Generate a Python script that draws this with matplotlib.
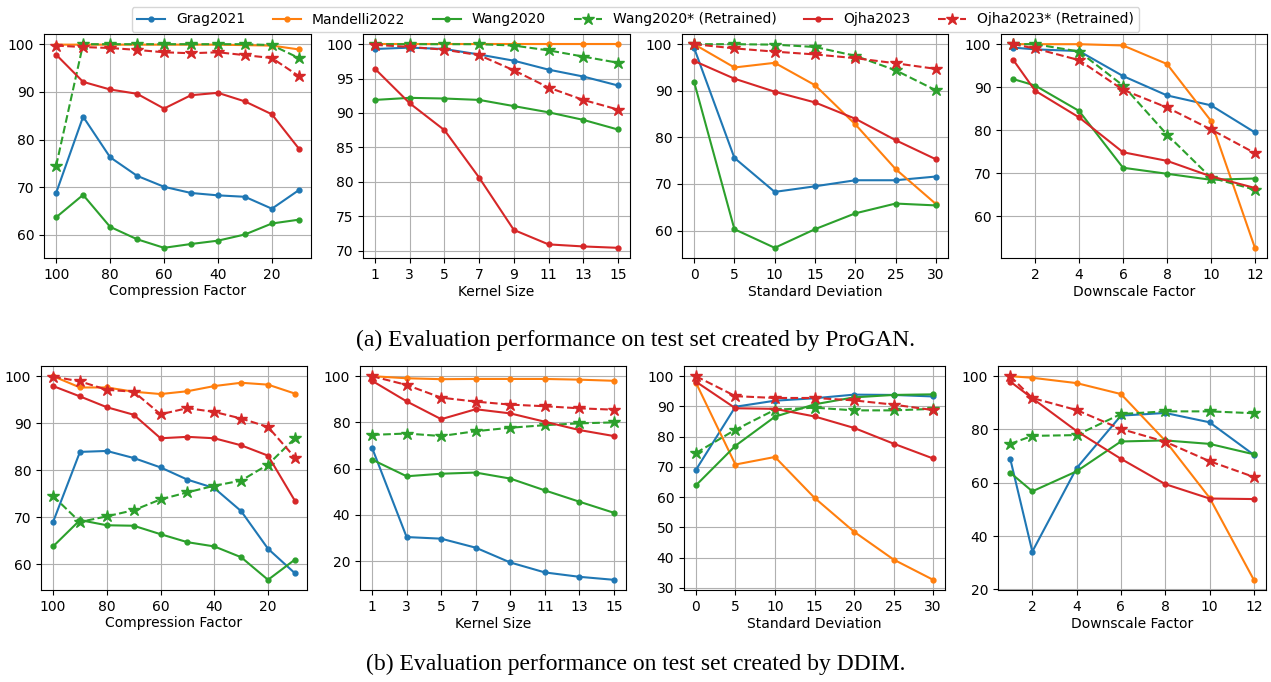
import numpy as np
import matplotlib
matplotlib.use('Agg')
import matplotlib.pyplot as plt

###Data
comp_x = [100, 90, 80, 70, 60, 50, 40, 30, 20, 10]
kern_x = [1, 3, 5, 7, 9, 11, 13, 15]
std_x = [0, 5, 10, 15, 20, 25, 30]
down_x = [1, 2, 4, 6, 8, 10, 12]

methods = ['Grag2021', 'Mandelli2022', 'Wang2020', 'Wang2020* (Retrained)',
           'Ojha2023', 'Ojha2023* (Retrained)']

# (a) ProGAN
progan_comp = [
    [68.8, 84.8, 76.3, 72.4, 70.1, 68.8, 68.3, 68.0, 65.5, 69.4],
    [99.9, 99.9, 99.9, 99.9, 99.9, 99.9, 99.9, 99.8, 99.7, 98.9],
    [63.7, 68.4, 61.7, 59.1, 57.3, 58.1, 58.8, 60.1, 62.4, 63.2],
    [74.5, 100.0, 100.0, 100.0, 100.0, 100.0, 100.0, 100.0, 99.8, 97.1],
    [97.8, 92.1, 90.5, 89.6, 86.5, 89.3, 89.8, 88.0, 85.3, 78.1],
    [99.7, 99.4, 99.2, 98.8, 98.3, 98.1, 98.3, 97.7, 97.1, 93.3],
]
progan_kern = [
    [99.3, 99.5, 99.3, 98.5, 97.6, 96.3, 95.3, 94.0],
    [100.0, 100.0, 100.0, 100.0, 100.0, 100.0, 100.0, 100.0],
    [91.9, 92.2, 92.1, 91.9, 91.0, 90.1, 89.0, 87.6],
    [100.0, 100.0, 100.0, 100.0, 99.8, 99.1, 98.2, 97.3],
    [96.4, 91.4, 87.5, 80.6, 73.0, 70.9, 70.6, 70.4],
    [99.9, 99.6, 99.2, 98.4, 96.2, 93.7, 91.9, 90.5],
]
progan_std = [
    [99.2, 75.6, 68.3, 69.5, 70.8, 70.8, 71.6],
    [100.0, 95.0, 96.0, 91.2, 82.8, 73.2, 65.7],
    [91.9, 60.3, 56.3, 60.3, 63.7, 65.8, 65.4],
    [100.0, 100.0, 99.9, 99.4, 97.5, 94.4, 90.1],
    [96.4, 92.6, 89.8, 87.5, 84.0, 79.4, 75.3],
    [100.0, 99.1, 98.4, 97.8, 97.0, 95.9, 94.7],
]
progan_down = [
    [99.2, 98.8, 98.4, 92.6, 88.1, 85.8, 79.5],
    [100.0, 100.0, 100.0, 99.7, 95.4, 82.2, 52.7],
    [91.9, 90.4, 84.5, 71.3, 69.9, 68.5, 68.8],
    [100.0, 100.0, 98.3, 90.4, 79.0, 69.0, 66.2],
    [96.4, 89.2, 83.0, 74.9, 72.9, 69.3, 66.6],
    [100.0, 99.0, 96.3, 89.4, 85.3, 80.2, 74.7],
]

# (b) DDIM
ddim_comp = [
    [69.0, 83.9, 84.1, 82.6, 80.6, 78.0, 76.2, 71.3, 63.3, 58.1],
    [100.0, 97.6, 97.6, 96.7, 96.2, 96.8, 97.9, 98.6, 98.2, 96.3],
    [63.8, 69.4, 68.3, 68.2, 66.4, 64.7, 63.8, 61.5, 56.7, 61.0],
    [74.5, 69.0, 70.2, 71.5, 73.8, 75.3, 76.7, 77.8, 81.2, 86.8],
    [97.9, 95.7, 93.4, 91.8, 86.8, 87.1, 86.8, 85.3, 83.1, 73.5],
    [99.9, 98.9, 97.1, 96.7, 91.9, 93.2, 92.4, 91.0, 89.2, 82.7],
]
ddim_kern = [
    [69.0, 30.4, 29.7, 25.8, 19.4, 15.1, 13.2, 11.9],
    [100.0, 99.1, 98.7, 98.8, 98.8, 98.8, 98.5, 98.0],
    [63.9, 56.7, 57.8, 58.3, 55.7, 50.6, 45.7, 40.9],
    [74.6, 75.2, 74.1, 76.2, 77.7, 78.8, 79.6, 80.0],
    [98.0, 89.1, 81.4, 85.7, 83.9, 80.3, 76.7, 74.1],
    [100.0, 96.2, 90.7, 89.0, 87.7, 87.0, 86.1, 85.5],
]
ddim_std = [
    [69.0, 89.9, 91.9, 92.7, 93.9, 93.8, 93.3],
    [97.9, 70.8, 73.3, 59.8, 48.6, 39.4, 32.7],
    [63.9, 77.0, 86.6, 90.7, 93.0, 93.8, 94.0],
    [74.6, 82.3, 88.9, 89.6, 88.7, 88.7, 89.2],
    [98.2, 89.4, 89.2, 86.7, 82.9, 77.7, 72.8],
    [100.0, 93.4, 92.8, 92.8, 92.0, 90.6, 88.8],
]
ddim_down = [
    [69.1, 34.2, 65.5, 85.2, 86.2, 82.7, 70.5],
    [100.0, 99.4, 97.4, 93.3, 75.8, 54.4, 23.6],
    [63.8, 56.8, 64.3, 75.5, 75.9, 74.6, 70.7],
    [74.6, 77.6, 77.9, 85.8, 86.8, 86.8, 86.1],
    [98.0, 91.7, 79.4, 69.0, 59.5, 54.1, 53.9],
    [100.0, 91.8, 87.3, 80.2, 75.4, 68.1, 62.2],
]

colors = ['tab:blue', 'tab:orange', 'tab:green', 'tab:green', 'tab:red', 'tab:red']
styles = ['-', '-', '-', '--', '-', '--']
marks = ['.', '.', '.', '*', '.', '*']
msizes = [7, 7, 7, 9, 7, 9]

W, H = 1271, 682
fig = plt.figure(figsize=(W/100, H/100), dpi=100)

def px_axes(l, t, r, b):
    return fig.add_axes([l/W, 1-b/H, (r-l)/W, (b-t)/H])

top_boxes = [(44, 34, 311, 258), (363, 34, 630, 258), (682, 34, 948, 258), (1001, 34, 1267, 258)]
bot_boxes = [(41, 366, 307, 590), (360, 366, 626, 590), (684, 366, 945, 590), (998, 366, 1266, 590)]

panels = [
    (comp_x, 'Compression Factor', [100, 80, 60, 40, 20]),
    (kern_x, 'Kernel Size', kern_x),
    (std_x, 'Standard Deviation', std_x),
    (down_x, 'Downscale Factor', down_x[1:]),
]

def draw(ax, xs, series, xlabel, ticks, invert=False):
    for k in range(6):
        ax.plot(xs, series[k], color=colors[k], linestyle=styles[k], marker=marks[k],
                markersize=msizes[k], linewidth=1.5, label=methods[k])
    ax.grid(True)
    ax.set_xticks(ticks)
    ax.set_xlabel(xlabel, fontsize=10, labelpad=2)
    ax.tick_params(labelsize=10)
    if invert:
        ax.invert_xaxis()

for row, boxes in [([progan_comp, progan_kern, progan_std, progan_down], top_boxes),
                   ([ddim_comp, ddim_kern, ddim_std, ddim_down], bot_boxes)]:
    for i in range(4):
        ax = px_axes(*boxes[i])
        xs, xlabel, ticks = panels[i]
        draw(ax, xs, row[i], xlabel, ticks, invert=(i == 0))
        if i == 0 and boxes is top_boxes:
            handles, labels = ax.get_legend_handles_labels()

fig.legend(handles, labels, loc='upper center', ncol=6, bbox_to_anchor=(0.5, 1.0),
           fontsize=10, frameon=True, handlelength=2.0, columnspacing=2.0)

fig.text(0.5, 1-340/H, '(a) Evaluation performance on test set created by ProGAN.',
         ha='center', va='center', family='Liberation Serif', fontsize=17)
fig.text(0.5, 1-664/H, '(b) Evaluation performance on test set created by DDIM.',
         ha='center', va='center', family='Liberation Serif', fontsize=17)

fig.savefig('out.png', dpi=100)
